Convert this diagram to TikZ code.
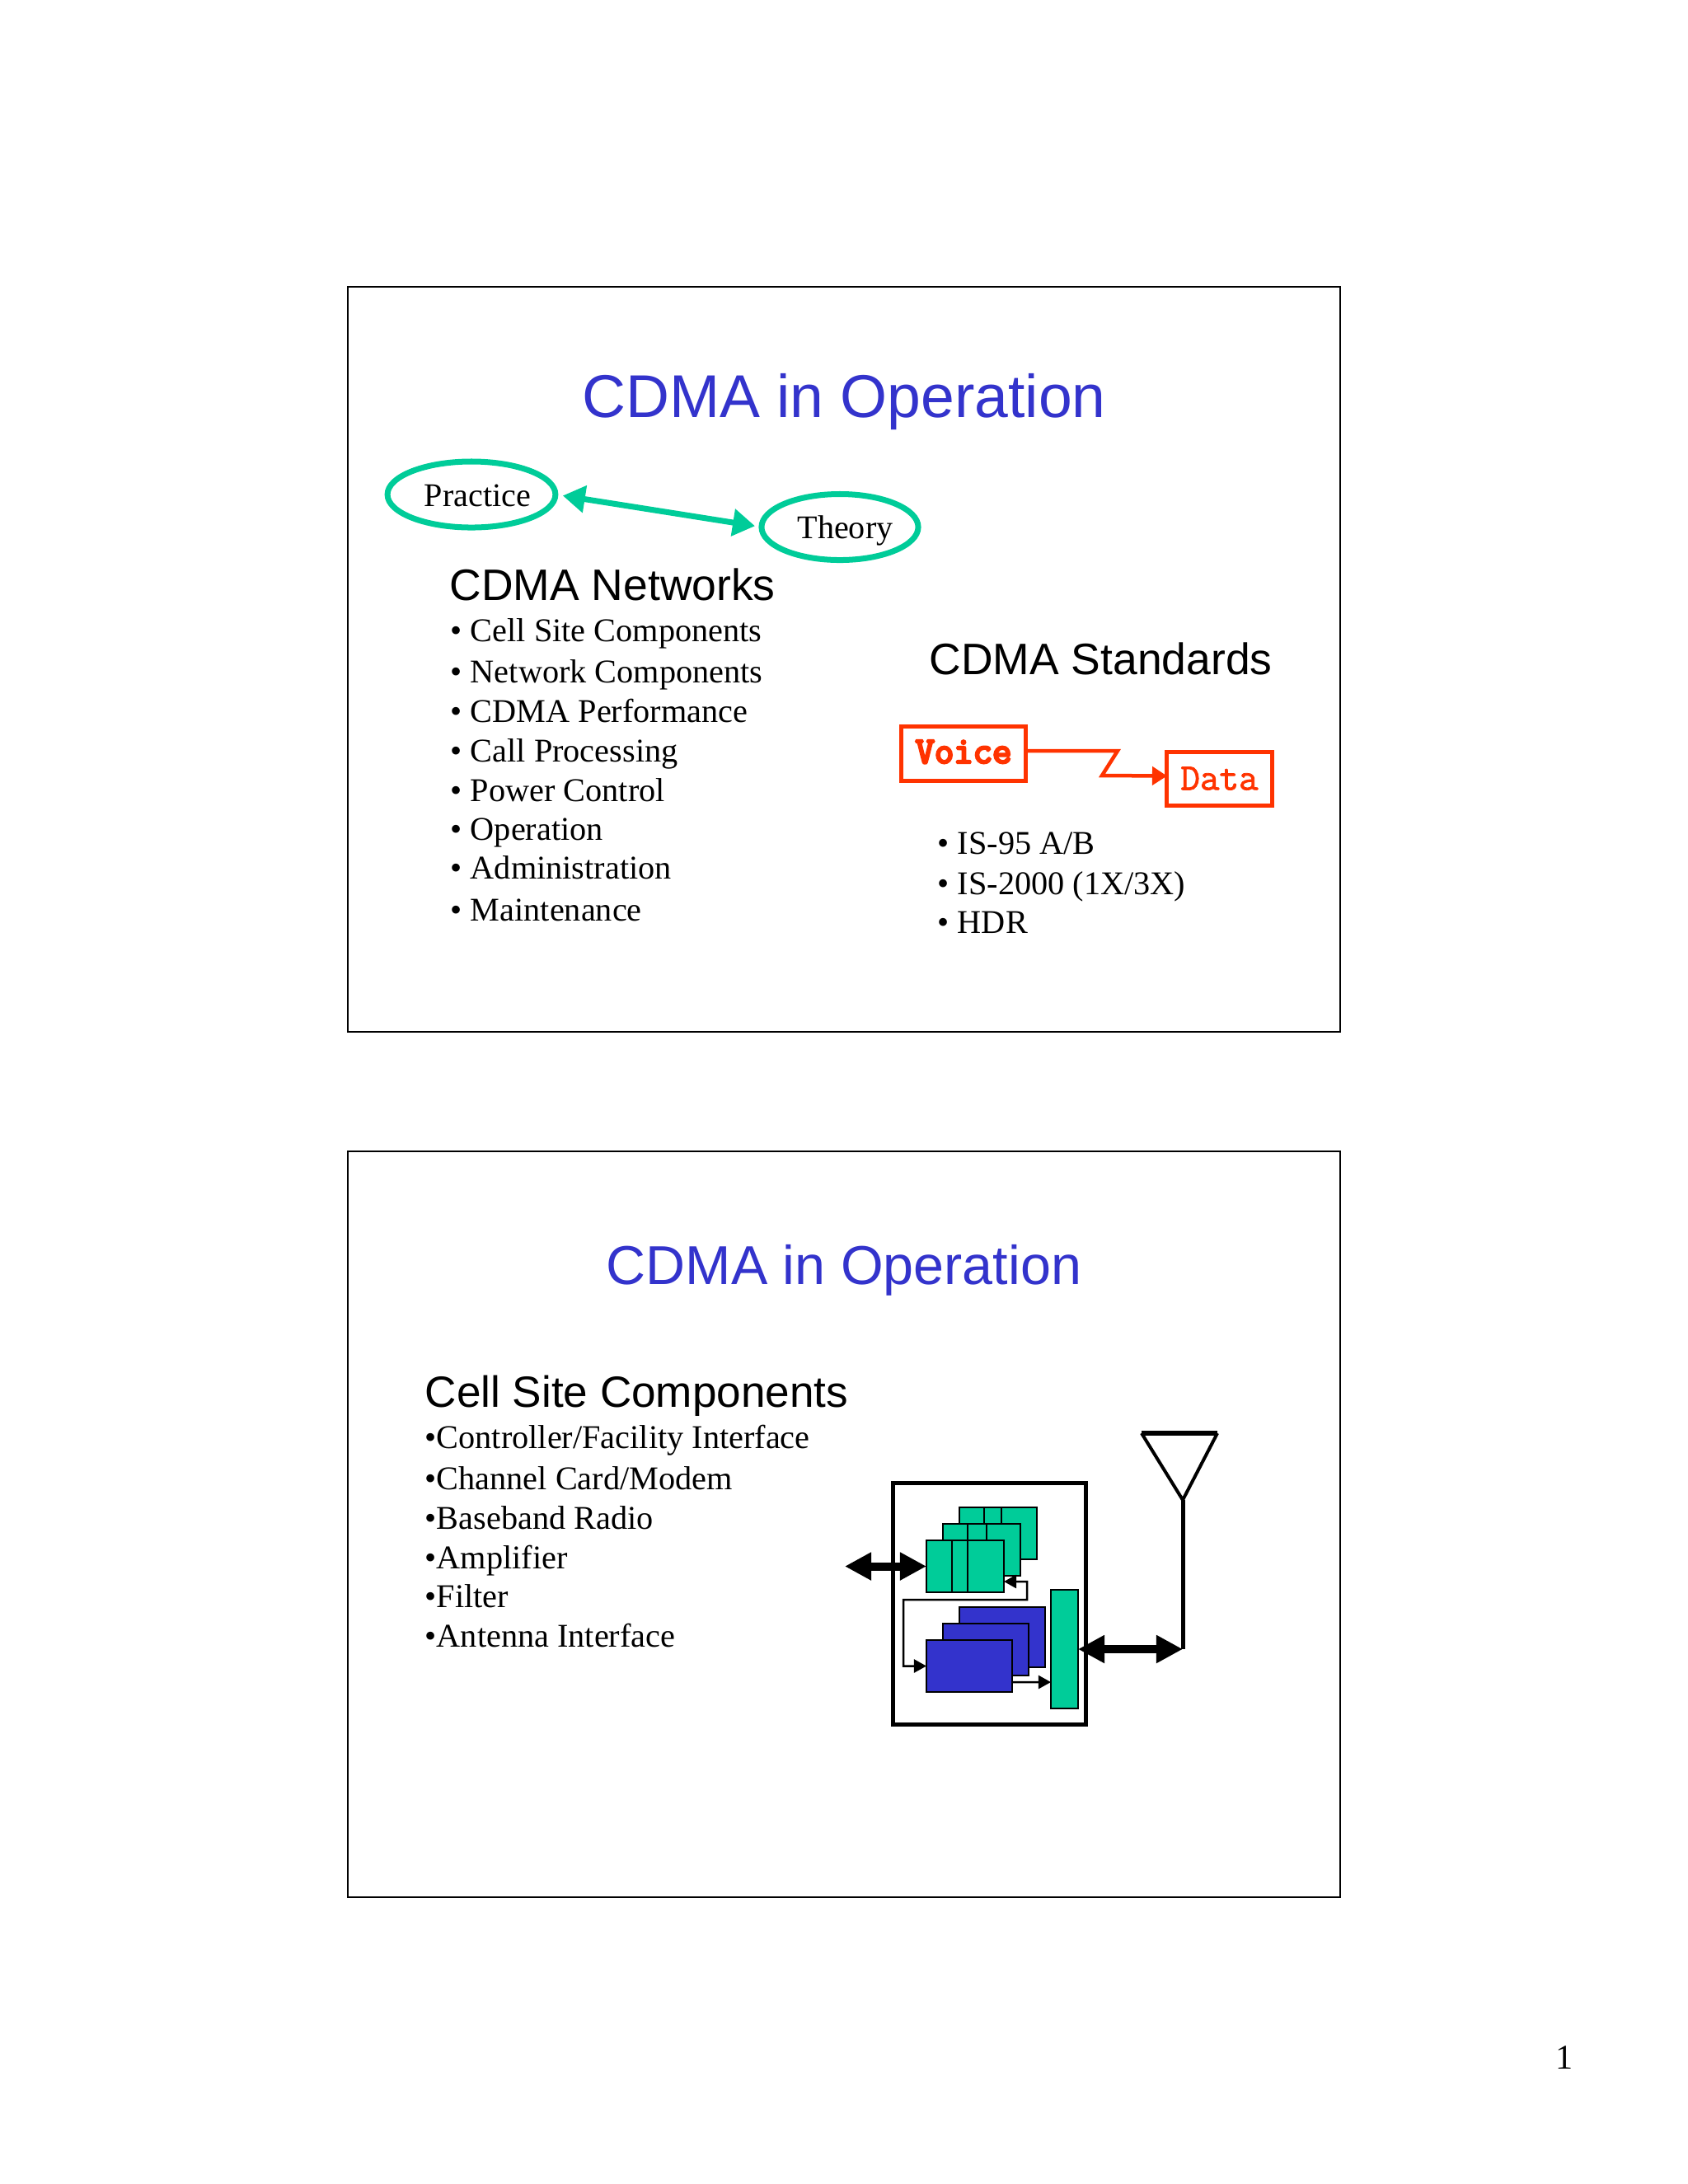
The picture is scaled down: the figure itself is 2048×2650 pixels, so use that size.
\documentclass[tikz,border=0pt]{standalone}
\usepackage{fontspec}
\setmainfont{Liberation Serif}
\setsansfont{Liberation Sans}
\newfontfamily\voicefont[FakeBold=6]{Latin Modern Mono}
\newfontfamily\datafont[FakeBold=1.8]{Latin Modern Mono}
\usetikzlibrary{arrows.meta,shapes.geometric}
\definecolor{titleblue}{HTML}{3333CC}
\definecolor{cardgreen}{HTML}{00CC99}
\definecolor{linkred}{HTML}{FF3300}
\tikzset{
  frame/.style={draw=black, line width=0.02cm, minimum width=12.04cm, minimum height=9.04cm, inner sep=0, outer sep=0},
  slidetitle/.style={anchor=base, text=titleblue, inner sep=0, font=\sffamily},
  heading/.style={anchor=base west, inner sep=0, font=\sffamily\fontsize{15.2}{18}\selectfont},
  item/.style={anchor=base west, inner sep=0, font=\fontsize{11.45}{14}\selectfont},
  ring/.style={ellipse, draw=cardgreen, line width=0.07cm, inner sep=0, outer sep=0, font=\fontsize{11.4}{14}\selectfont},
  redbox/.style={draw=linkred, text=linkred, line width=0.05cm, inner sep=0, outer sep=0},
  card/.style={draw=black, line width=0.025cm, inner sep=0, outer sep=0, minimum width=0.94cm, minimum height=0.63cm, fill=cardgreen},
  bluecard/.style={draw=black, line width=0.025cm, inner sep=0, outer sep=0, fill=titleblue},
  bigtip/.style={{Triangle[length=0.32cm,width=0.32cm]}-{Triangle[length=0.32cm,width=0.32cm]}, line width=0.1cm},
  smalltip/.style={-{Triangle[length=0.15cm,width=0.16cm]}, line width=0.025cm}
}
\begin{document}
\begin{tikzpicture}[x=0.01cm, y=-0.01cm]
        \useasboundingbox (0, 0) rectangle (2048, 2650);
        % Upper slide:
        \node[frame](F1) at (1024, 800){};
        \node[slidetitle, font=\sffamily\fontsize{20.85}{25}\selectfont](T1) at (1024, 506.5){CDMA in Operation};
        \node[ring, minimum width=2.0cm, minimum height=0.8cm, text height=0.30cm](E1) at (572, 600){\hspace{0.15cm}Practice};
        \node[ring, minimum width=1.9cm, minimum height=0.8cm, text depth=0pt](E2) at (1019, 639.5){\hspace{0.13cm}Theory};
        \draw[cardgreen, line width=0.07cm, {Triangle[length=0.27cm,width=0.32cm]}-{Triangle[length=0.27cm,width=0.32cm]}, shorten <=0.09cm, shorten >=0.08cm] (E1.east) -- (E2.west);
        \node[heading](H1) at (545, 728){CDMA Networks};
        \node[item](L1) at (546, 778){• Cell Site Components};
        \node[item](L2) at (546, 828){• Network Components};
        \node[item](L3) at (546, 876){• CDMA Performance};
        \node[item](L4) at (546, 924){• Call Processing};
        \node[item](L5) at (546, 972){• Power Control};
        \node[item](L6) at (546, 1019){• Operation};
        \node[item](L7) at (546, 1066){• Administration};
        \node[item](L8) at (546, 1117){• Maintenance};
        \node[heading](H2) at (1127, 818){CDMA Standards};
        \node[redbox, minimum width=1.50cm, minimum height=0.66cm, text depth=0.04cm, font=\voicefont\fontsize{12.9}{14}\selectfont](V1) at (1169, 914){Voice};
        \node[redbox, minimum width=1.27cm, minimum height=0.65cm, font=\datafont\fontsize{13}{14}\selectfont](D1) at (1479.5, 944.5){Data};
        \coordinate (Z1) at (1356, 911);
        \coordinate (Z2) at (1337, 941);
        \draw[linkred, line width=0.045cm, -{Triangle[length=0.18cm,width=0.22cm]}] ([yshift=0.03cm]V1.east) -- (Z1) -- (Z2) -- ([yshift=0.03cm]D1.west);
        \node[item](S1) at (1137, 1036){• IS-95 A/B};
        \node[item](S2) at (1137, 1085){• IS-2000 (1X/3X)};
        \node[item](S3) at (1137, 1132){• HDR};
        % Lower slide:
        \node[frame](F2) at (1024, 1849.5){};
        \node[slidetitle, font=\sffamily\fontsize{18.9}{23}\selectfont](T2) at (1024, 1558){CDMA in Operation};
        \node[heading, font=\sffamily\fontsize{15.1}{18}\selectfont](H3) at (515, 1707){Cell Site Components};
        \node[item](C1) at (515, 1757){•Controller/Facility Interface};
        \node[item](C2) at (515, 1807){•Channel Card/Modem};
        \node[item](C3) at (515, 1855){•Baseband Radio};
        \node[item](C4) at (515, 1903){•Amplifier};
        \node[item](C5) at (515, 1950.5){•Filter};
        \node[item](C6) at (515, 1998.5){•Antenna Interface};
        \node[draw=black, line width=0.05cm, minimum width=2.33cm, minimum height=2.92cm, inner sep=0, outer sep=0](O1) at (1200.5, 1946){};
        \node[card](G3) at (1211, 1860.5){};
        \draw[line width=0.025cm] ([xshift=0.30cm]G3.north west) -- ([xshift=0.30cm]G3.south west);
        \draw[line width=0.025cm] ([xshift=0.51cm]G3.north west) -- ([xshift=0.51cm]G3.south west);
        \node[card](G2) at (1191, 1880.5){};
        \draw[line width=0.025cm] ([xshift=0.30cm]G2.north west) -- ([xshift=0.30cm]G2.south west);
        \draw[line width=0.025cm] ([xshift=0.53cm]G2.north west) -- ([xshift=0.53cm]G2.south west);
        \node[card](G1) at (1171, 1900.5){};
        \draw[line width=0.025cm] ([xshift=0.31cm]G1.north west) -- ([xshift=0.31cm]G1.south west);
        \draw[line width=0.025cm] ([xshift=0.50cm]G1.north west) -- ([xshift=0.50cm]G1.south west);
        \node[bluecard, minimum width=1.04cm, minimum height=0.73cm](B3) at (1216, 1986.5){};
        \node[bluecard, minimum width=1.04cm, minimum height=0.63cm](B2) at (1196, 2001.5){};
        \node[bluecard, minimum width=1.04cm, minimum height=0.63cm](B1) at (1176, 2021.5){};
        \node[card, minimum width=0.33cm, minimum height=1.44cm](R1) at (1291.5, 2001){};
        \coordinate (W1) at (1246, 1919);
        \coordinate (W2) at (1246, 1941);
        \coordinate (W3) at (1096, 1941);
        \draw[smalltip, {Triangle[length=0.15cm,width=0.16cm]}-{Triangle[length=0.15cm,width=0.16cm]}] ([yshift=0.13cm]G1.south east) -- (W1) -- (W2) -- (W3) |- (B1.west);
        \draw[smalltip] ([yshift=0.12cm]B1.south east) -- ([yshift=-0.4cm]R1.west);
        \coordinate (P1) at (1025, 1900.5);
        \draw[bigtip] (P1) -- (G1.west);
        \coordinate (A1) at (1435, 1820);
        \coordinate (A2) at (1435, 2001);
        \coordinate (A3) at (1385, 1739);
        \coordinate (A4) at (1477, 1739);
        \draw[bigtip] (R1.east) -- (A2);
        \draw[line width=0.05cm] (A1) -- (A2);
        \draw[line width=0.04cm] (A3) -- (A1) -- (A4);
        \draw[line width=0.055cm] (A3) -- (A4);
        \node[item, font=\fontsize{12}{14}\selectfont](N1) at (1887, 2510.5){1};
    \end{tikzpicture}
\end{document}
